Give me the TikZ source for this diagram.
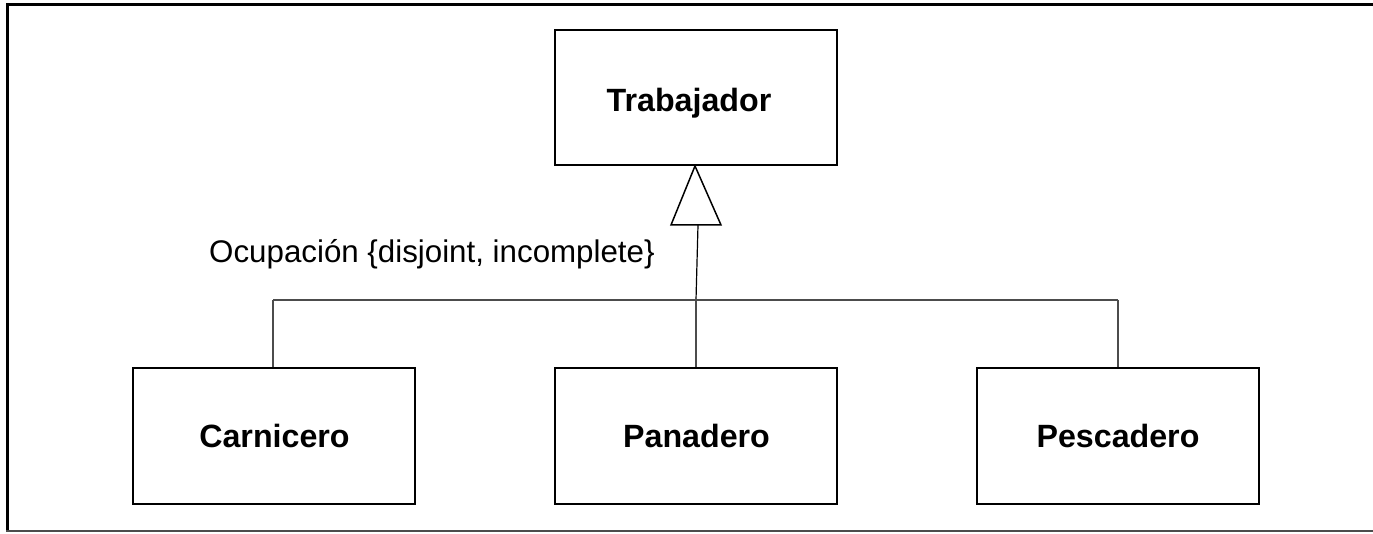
\documentclass[tikz,border=0pt]{standalone}
\usepackage{fontspec}
\setmainfont{Liberation Sans}
\begin{document}
\begin{tikzpicture}[x=1pt,y=-1pt,
  cls/.style={draw=black,line width=2pt,minimum width=282pt,minimum height=135pt,inner sep=0pt},
  ctext/.style={anchor=base,inner sep=0pt,font=\fontsize{32.2}{36}\selectfont\bfseries},
  conn/.style={draw=black!70,line width=1.5pt},
  lbl/.style={inner sep=0pt,font=\fontsize{31.3}{36}\selectfont}]
\useasboundingbox (0,0) rectangle (1373,534);
% frame
\draw[line width=3pt] (7,5) -- (1373,5);
\draw[line width=3pt] (7,3.5) -- (7,531);
\draw[line width=2pt,black!70] (6,531) -- (1373,531);
% classes
\node[cls] (trab) at (696,97.5) {};
\node[cls] (carn) at (273.5,436) {};
\node[cls] (pana) at (695.5,436) {};
\node[cls] (pesc) at (1118,436) {};
\node[ctext] (ttrab) at (689,112) {Trabajador};
\node[ctext] (tcarn) at (274.5,447) {Carnicero};
\node[ctext] (tpana) at (696.5,447) {Panadero};
\node[ctext] (tpesc) at (1118,447) {Pescadero};
% generalization triangle
\coordinate (apex) at (695,166);
\coordinate (bl) at (671,225);
\coordinate (br) at (721,225);
\coordinate (bm) at (698,225);
\draw[line width=1.5pt,fill=white,line join=miter] (apex) -- (bl) -- (br) -- cycle;
\coordinate (junc) at (696,300);
\draw[line width=1.2pt] (bm) -- (junc);
\coordinate (hl) at (273,300);
\coordinate (hr) at (1118,300);
\draw[conn] (hl) -- (hr);
\draw[conn] (hl) -- (carn.north -| hl);
\draw[conn] (junc) -- (pana.north -| junc);
\draw[conn] (hr) -- (pesc.north -| hr);
% label
\node[lbl,anchor=base west] (gs) at (209,263) {Ocupación \{disjoint, incomplete\}};
\end{tikzpicture}
\end{document}
